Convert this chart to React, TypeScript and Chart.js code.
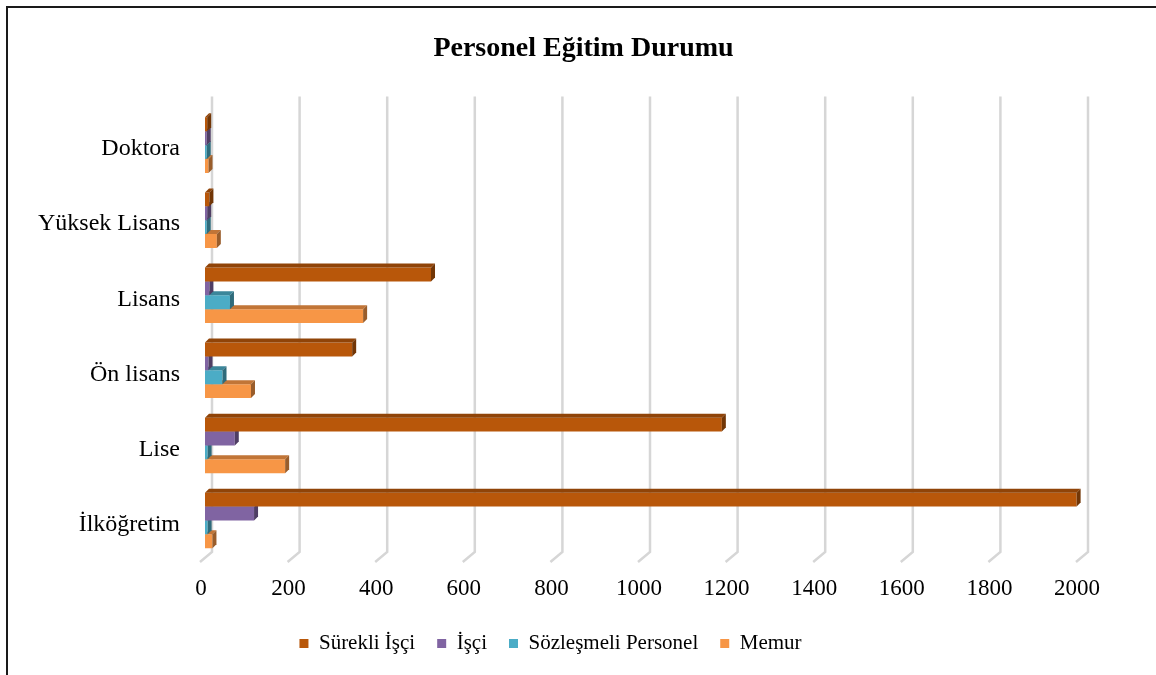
import React, { useEffect, useRef } from "react";
import { Chart, registerables } from "chart.js";

Chart.register(...registerables);

const categories = ["Doktora", "Yüksek Lisans", "Lisans", "Ön lisans", "Lise", "İlköğretim"];
const seriesNames = ["Sürekli İşçi", "İşçi", "Sözleşmeli Personel", "Memur"];
const surekliIsci = [5, 10, 516, 336, 1180, 1990];
const isci = [4, 5, 10, 8, 68, 112];
const sozlesmeli = [4, 4, 57, 40, 6, 6];
const memur = [8, 27, 361, 105, 183, 17];
const xTickValues = [0, 200, 400, 600, 800, 1000, 1200, 1400, 1600, 1800, 2000];
const seriesColors = ["#B8570A", "#8064A2", "#4BACC6", "#F79646"];

const FONT = "'Liberation Serif', 'Times New Roman', serif";

function shade(hex: string, f: number) {
  const n = parseInt(hex.slice(1), 16);
  const r = Math.round(((n >> 16) & 255) * f);
  const g = Math.round(((n >> 8) & 255) * f);
  const b = Math.round((n & 255) * f);
  return `rgb(${r},${g},${b})`;
}

const DEPTH = 4;

const bar3d = {
  id: "bar3d",
  afterDatasetDraw(chart: any, args: any) {
    const ctx = chart.ctx;
    const meta = chart.getDatasetMeta(args.index);
    const color = seriesColors[args.index];
    ctx.save();
    meta.data.forEach((el: any) => {
      const { x, y, base, height } = el.getProps(["x", "y", "base", "height"], true);
      const top = y - height / 2;
      const bottom = y + height / 2;
      const d = DEPTH;
      ctx.fillStyle = shade(color, 0.78);
      ctx.beginPath();
      ctx.moveTo(base, top);
      ctx.lineTo(base + d, top - d);
      ctx.lineTo(x + d, top - d);
      ctx.lineTo(x, top);
      ctx.closePath();
      ctx.fill();
      ctx.fillStyle = shade(color, 0.62);
      ctx.beginPath();
      ctx.moveTo(x, top);
      ctx.lineTo(x + d, top - d);
      ctx.lineTo(x + d, bottom - d);
      ctx.lineTo(x, bottom);
      ctx.closePath();
      ctx.fill();
    });
    ctx.restore();
  },
};

const backGrid = {
  id: "backGrid",
  beforeDatasetsDraw(chart: any) {
    const ctx = chart.ctx;
    const xs = chart.scales.x;
    const area = chart.chartArea;
    ctx.save();
    ctx.strokeStyle = "#d6d6d6";
    ctx.lineWidth = 2.5;
    xTickValues.forEach((v) => {
      const px = xs.getPixelForValue(v);
      ctx.beginPath();
      ctx.moveTo(px + 7, area.top - 11);
      ctx.lineTo(px + 7, area.bottom - 6);
      ctx.lineTo(px - 5, area.bottom + 4);
      ctx.stroke();
    });
    ctx.restore();
  },
};

const shiftBlocks = {
  id: "shiftBlocks",
  beforeDraw(chart: any) {
    if (chart.titleBlock && !chart.titleBlock._shifted) {
      chart.titleBlock.left += 43;
      chart.titleBlock.right += 43;
      chart.titleBlock._shifted = true;
    }
    if (chart.legend && !chart.legend._shifted) {
      chart.legend.left += 10;
      chart.legend.right += 10;
      chart.legend._shifted = true;
    }
  },
};

export default function App() {
  const ref = useRef<HTMLCanvasElement | null>(null);
  useEffect(() => {
    if (!ref.current) return;
    const values = [surekliIsci, isci, sozlesmeli, memur];
    const chart = new Chart(ref.current, {
      type: "bar",
      data: {
        labels: categories,
        datasets: seriesNames.map((name, i) => ({
          label: name,
          data: values[i],
          backgroundColor: seriesColors[i],
          borderWidth: 0,
          categoryPercentage: 0.74,
          barPercentage: 1,
        })),
      },
      options: {
        indexAxis: "y",
        responsive: false,
        animation: false,
        layout: { padding: { left: 0, right: 75, top: 0, bottom: 11 } },
        scales: {
          x: {
            min: 0,
            max: 2000,
            afterBuildTicks: (scale: any) => {
              scale.ticks = xTickValues.map((v) => ({ value: v }));
            },
            afterFit: (scale: any) => {
              scale.height = 53;
            },
            grid: { display: false, drawTicks: false },
            border: { display: false },
            ticks: {
              padding: 17,
              labelOffset: -4,
              color: "#000",
              font: { family: FONT, size: 23 },
              maxRotation: 0,
              autoSkip: false,
              callback: (v: any) => String(v),
            },
          },
          y: {
            afterFit: (scale: any) => {
              scale.width = 205;
            },
            grid: { display: false, drawTicks: false },
            border: { display: false },
            ticks: {
              padding: 25,
              labelOffset: 4,
              color: "#000",
              font: { family: FONT, size: 24 },
            },
          },
        },
        plugins: {
          title: {
            display: true,
            text: "Personel Eğitim Durumu",
            color: "#000",
            font: { family: FONT, size: 28, weight: "bold" },
            padding: { top: 32, bottom: 42 },
          },
          legend: {
            position: "bottom",
            labels: {
              color: "#000",
              font: { family: FONT, size: 21 },
              boxWidth: 9,
              boxHeight: 9,
              padding: 22,
            },
          },
          tooltip: { enabled: false },
        },
      },
      plugins: [backGrid, bar3d, shiftBlocks],
    } as any);
    return () => chart.destroy();
  }, []);
  return (
    <div
      style={{
        position: "fixed",
        left: 0,
        top: 0,
        width: 1156,
        height: 675,
        overflow: "hidden",
        background: "#fff",
      }}
    >
      <canvas ref={ref} width={1156} height={675} style={{ display: "block", position: "absolute", left: 0, top: 0 }} />
      <div
        style={{
          position: "absolute",
          left: 6,
          top: 6,
          width: 1200,
          height: 720,
          border: "2px solid #1a1a1a",
          pointerEvents: "none",
        }}
      />
    </div>
  );
}
